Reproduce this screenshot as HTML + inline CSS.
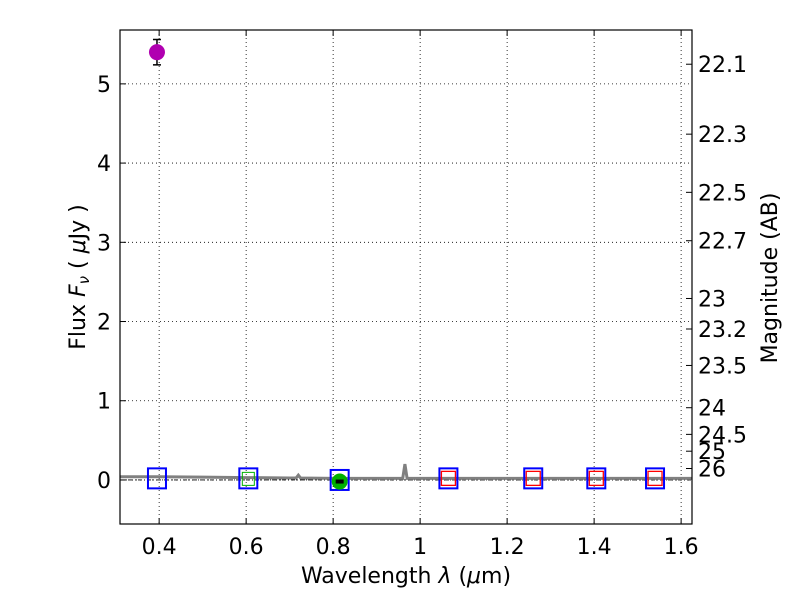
<!DOCTYPE html>
<html><head><meta charset="utf-8"><style>
body{margin:0;background:#fff}
svg{display:block;font-family:"DejaVu Sans","Liberation Sans",sans-serif}
</style></head><body>
<svg id="chart" width="800" height="600" viewBox="0 0 800 600">
<rect width="800" height="600" fill="#fff"/>
<g id="grid"></g>
<g id="spec"></g>
<g id="marks"></g>
<rect x="120" y="30" width="572" height="494" fill="none" stroke="#000" stroke-width="1.2"/>
<g id="axes"></g>
<text x="406" y="583" font-size="22" text-anchor="middle">Wavelength  <tspan font-style="italic">λ</tspan> (<tspan font-style="italic">μ</tspan>m)</text>
<text transform="translate(85,277) rotate(-90)" font-size="22" text-anchor="middle">Flux  <tspan font-style="italic">F<tspan font-size="15" dy="4">ν</tspan></tspan><tspan dy="-4">  (  </tspan><tspan font-style="italic">μ</tspan>Jy )</text>
<text transform="translate(777,278) rotate(-90)" font-size="22" text-anchor="middle">Magnitude (AB)</text>
</svg>
<script>
const xTicks=[0.4,0.6,0.8,1.0,1.2,1.4,1.6];
const xTickLabels=["0.4","0.6","0.8","1","1.2","1.4","1.6"];
const yTicks=[0,1,2,3,4,5];
const magTicks=[22.1,22.3,22.5,22.7,23,23.2,23.5,24,24.5,25,26];
const magLabels=["22.1","22.3","22.5","22.7","23","23.2","23.5","24","24.5","25","26"];
const specWave=[0.31,0.4,0.5,0.6,0.7,0.715,0.72,0.725,0.8,0.9,0.96,0.965,0.97,1.0,1.2,1.4,1.625];
const specFlux=[0.04,0.04,0.035,0.03,0.025,0.025,0.06,0.025,0.02,0.02,0.02,0.2,0.02,0.02,0.02,0.02,0.02];
const bandWave=[0.395,0.605,0.815,1.065,1.26,1.405,1.54];
const bandFlux=[0.02,0.02,0.0,0.02,0.02,0.02,0.02];
const obsWaveRed=[1.065,1.26,1.405,1.54];
const obsFluxRed=[0.02,0.02,0.02,0.02];
const purpleWave=[0.395];const purpleFlux=[5.4];const purpleErr=[0.16];
const greenWave=[0.815];const greenFlux=[-0.02];
const X0=120,X1=692,Y0=30,Y1=524,xmin=0.31,xmax=1.625,ymin=-0.556,ymax=5.68;
const sx=v=>X0+(v-xmin)/(xmax-xmin)*(X1-X0);
const sy=v=>Y1-(v-ymin)/(ymax-ymin)*(Y1-Y0);
const NS="http://www.w3.org/2000/svg";
function mk(p,t,a){const e=document.createElementNS(NS,t);for(const k in a)e.setAttribute(k,a[k]);p.appendChild(e);return e;}
const grid=document.getElementById('grid'),axes=document.getElementById('axes'),spec=document.getElementById('spec'),marks=document.getElementById('marks');
xTicks.forEach((v,i)=>{const x=sx(v);
 let g=mk(grid,'line',{x1:x,x2:x,y1:Y0,y2:Y1,stroke:'#000','stroke-dasharray':'1,3','stroke-width':0.8});
 
 mk(axes,'line',{x1:x,x2:x,y1:Y1,y2:Y1-6,stroke:'#000'});mk(axes,'line',{x1:x,x2:x,y1:Y0,y2:Y0+6,stroke:'#000'});
 let t=mk(axes,'text',{x:x,y:Y1+30,'font-size':22,'text-anchor':'middle'});t.textContent=xTickLabels[i];
 });
yTicks.forEach(v=>{const y=sy(v);
 let g=mk(grid,'line',{x1:X0,x2:X1,y1:y,y2:y,stroke:'#000','stroke-dasharray':'1,3','stroke-width':0.8});
 
 mk(axes,'line',{x1:X0,x2:X0+6,y1:y,y2:y,stroke:'#000'});
 let t=mk(axes,'text',{x:X0-9,y:y+8,'font-size':22,'text-anchor':'end'});t.textContent=String(v);
 });
magTicks.forEach((m,i)=>{const y=sy(Math.pow(10,(23.9-m)/2.5));
 mk(axes,'line',{x1:X1,x2:X1-6,y1:y,y2:y,stroke:'#000'});
 let t=mk(axes,'text',{x:X1+6,y:y+8,'font-size':22});t.textContent=magLabels[i];
 });
let zl=mk(spec,'line',{x1:X0,x2:X1,y1:sy(0),y2:sy(0),stroke:'#000','stroke-dasharray':'4,2,1,2','stroke-width':0.8});

let sp=mk(spec,'polyline',{points:specWave.map((w,i)=>sx(w)+','+sy(specFlux[i])).join(' '),fill:'none',stroke:'#808080','stroke-width':3});

bandWave.forEach((w,i)=>{const x=sx(w),y=sy(bandFlux[i]);
 let r=mk(marks,'rect',{x:x-9,y:y-10,width:18,height:20,fill:'none',stroke:'#0000ff','stroke-width':2});
 });
let gs=mk(marks,'rect',{x:sx(0.605)-6,y:sy(0.02)-6,width:12,height:13,fill:'none',stroke:'#00b000','stroke-width':1});

obsWaveRed.forEach((w,i)=>{const x=sx(w),y=sy(obsFluxRed[i]);
 let r=mk(marks,'rect',{x:x-7,y:y-7,width:14,height:14,fill:'none',stroke:'#ff0000','stroke-width':1.3});
 });
purpleWave.forEach((w,i)=>{const x=sx(w),y=sy(purpleFlux[i]);
 mk(marks,'line',{x1:x,x2:x,y1:sy(purpleFlux[i]+purpleErr[i]),y2:sy(purpleFlux[i]-purpleErr[i]),stroke:'#000','stroke-width':1.5});
 mk(marks,'line',{x1:x-4,x2:x+4,y1:sy(purpleFlux[i]+purpleErr[i]),y2:sy(purpleFlux[i]+purpleErr[i]),stroke:'#000','stroke-width':1.5});
 mk(marks,'line',{x1:x-4,x2:x+4,y1:sy(purpleFlux[i]-purpleErr[i]),y2:sy(purpleFlux[i]-purpleErr[i]),stroke:'#000','stroke-width':1.5});
 let c=mk(marks,'circle',{cx:x,cy:y,r:8,fill:'#b000b0'});
 });
greenWave.forEach((w,i)=>{const x=sx(w),y=sy(greenFlux[i]);
 let c=mk(marks,'circle',{cx:x,cy:y,r:8,fill:'#00b000'});
 
 mk(marks,'rect',{x:x-4,y:y-2,width:8,height:4,fill:'#000'});});
</script>
</body></html>
